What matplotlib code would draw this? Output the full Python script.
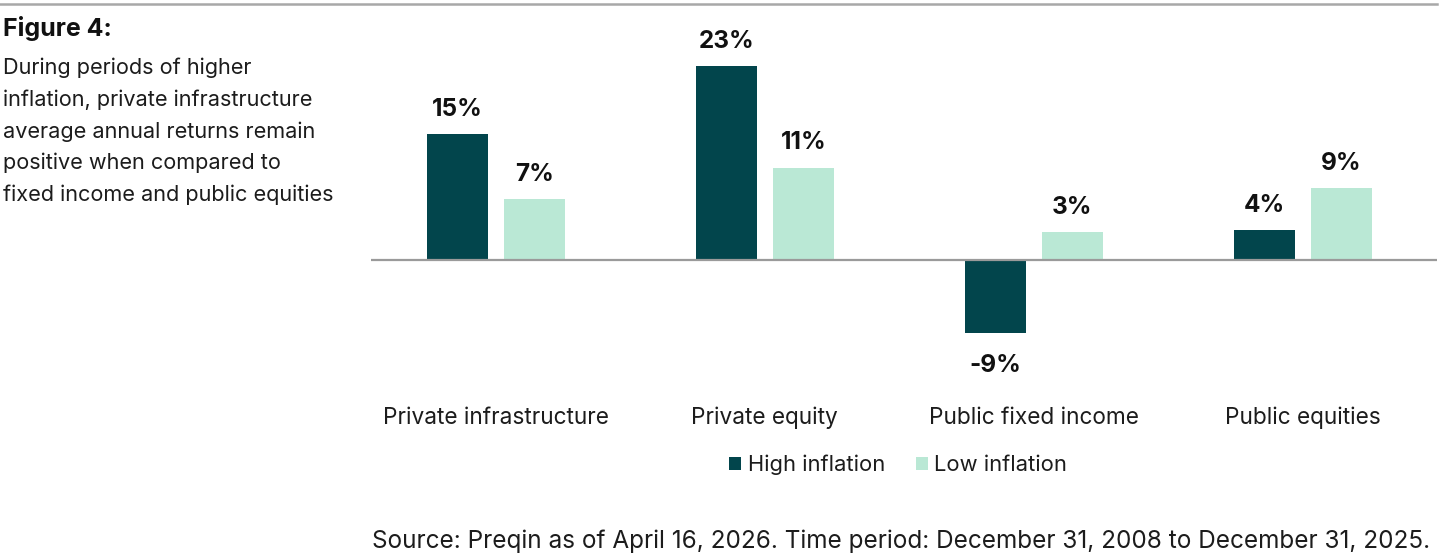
import matplotlib.pyplot as plt
import numpy as np
from matplotlib.transforms import blended_transform_factory

plt.rcParams['font.family'] = ['Inter', 'DejaVu Sans']

categories = ["Private infrastructure", "Private equity", "Public fixed income", "Public equities"]
high_inflation = [15.0, 23.0, -8.6, 3.6]
low_inflation = [7.3, 11.0, 3.4, 8.6]
series_names = ["High inflation", "Low inflation"]

title = "Figure 4:"
subtitle_lines = ["During periods of higher",
                  "inflation, private infrastructure",
                  "average annual returns remain",
                  "positive when compared to",
                  "fixed income and public equities"]
source = "Source: Preqin as of April 16, 2026. Time period: December 31, 2008 to December 31, 2025."

dark = "#02454c"
light = "#bae8d5"
text_col = "#1c1c1c"

W, H = 1440, 560
fig = plt.figure(figsize=(W / 100, H / 100), dpi=100)

# axes placed in pixel terms
ax_l, ax_r, ax_t, ax_b = 371, 1437, 20, 340
ax = fig.add_axes([ax_l / W, 1 - ax_b / H, (ax_r - ax_l) / W, (ax_b - ax_t) / H])

x = np.arange(len(categories))
w = 0.227
off = 0.143
b1 = ax.bar(x - off, high_inflation, w, color=dark, label=series_names[0])
b2 = ax.bar(x + off, low_inflation, w, color=light, label=series_names[1])

ax.set_xlim(-0.465, 3.5)
ax.set_ylim(-9.41, 28.46)
ax.axhline(0, color="#9a9a9a", lw=1.6, zorder=3)
for s in ax.spines.values():
    s.set_visible(False)
ax.set_xticks([])
ax.set_yticks([])

for bars, vals in [(b1, high_inflation), (b2, low_inflation)]:
    for rect, v in zip(bars, vals):
        cx = rect.get_x() + rect.get_width() / 2
        dy = 13 if v >= 0 else -28
        ax.annotate(f"{round(v):.0f}%", (cx, v), xytext=(0, dy), textcoords="offset points",
                    ha="center", va="baseline", fontsize=17.5, fontweight="bold", color="#111111")

trans = blended_transform_factory(ax.transData, ax.transAxes)
for i, c in enumerate(categories):
    ax.text(i, -78 / (ax_b - ax_t), c, transform=trans, ha="center", va="center",
            fontsize=16.3, color=text_col)

fig.legend(handles=[b1, b2], labels=series_names, loc="center", bbox_to_anchor=(898 / W, 1 - 465 / H),
           ncol=2, frameon=False, fontsize=15.8, handlelength=0.55, handleheight=0.55,
           handletextpad=0.28, columnspacing=1.4, labelcolor=text_col)

# header rule
fig.add_artist(plt.Line2D([0, 1437 / W], [1 - 3.5 / H, 1 - 3.5 / H], color="#a8a8a8", lw=1.8))

fig.text(3 / W, 1 - 36 / H, title, fontsize=18, fontweight="bold", color="#111111", va="baseline")
for k, line in enumerate(subtitle_lines):
    fig.text(3 / W, 1 - (74 + 31.8 * k) / H, line, fontsize=15.6, color=text_col, va="baseline")

fig.text(372 / W, 1 - 548 / H, source, fontsize=17.5, color=text_col, va="baseline")

fig.savefig("out.png", dpi=100)
